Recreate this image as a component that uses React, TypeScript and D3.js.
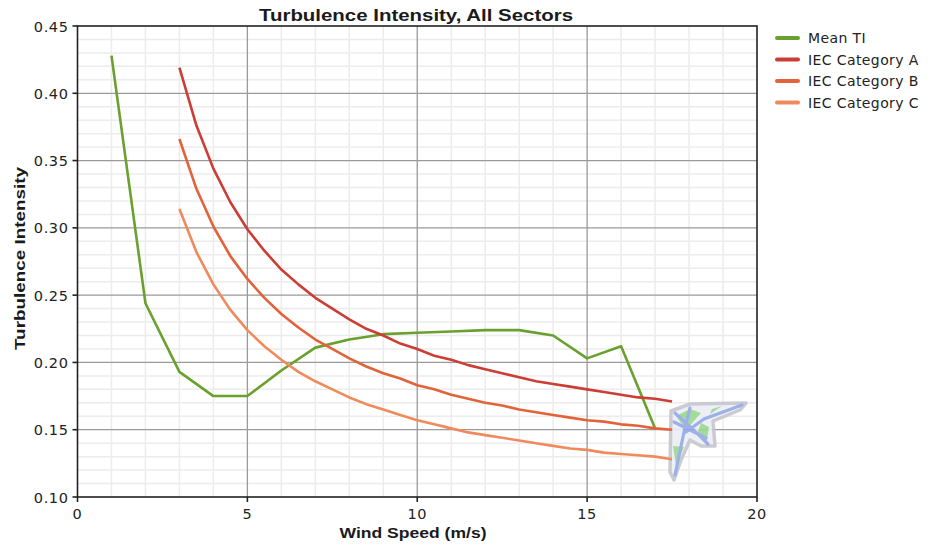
import React, { useEffect, useRef } from "react";
import * as d3 from "d3";

// values
const meanSpeeds = [1, 2, 3, 4, 5, 6, 7, 8, 9, 10, 11, 12, 13, 14, 15, 16, 17];
const meanTI = [0.428, 0.244, 0.193, 0.175, 0.175, 0.194, 0.211, 0.217, 0.221, 0.222, 0.223, 0.224, 0.224, 0.22, 0.203, 0.212, 0.151];

const iecSpeeds = [3, 3.5, 4, 4.5, 5, 5.5, 6, 6.5, 7, 7.5, 8, 8.5, 9, 9.5, 10, 10.5, 11, 11.5, 12, 12.5, 13, 13.5, 14, 14.5, 15, 15.5, 16, 16.5, 17, 17.5];
const iecA = [0.419, 0.376, 0.344, 0.319, 0.299, 0.283, 0.269, 0.258, 0.248, 0.24, 0.232, 0.225, 0.22, 0.214, 0.21, 0.205, 0.202, 0.198, 0.195, 0.192, 0.189, 0.186, 0.184, 0.182, 0.18, 0.178, 0.176, 0.174, 0.173, 0.171];
const iecB = [0.366, 0.329, 0.301, 0.279, 0.262, 0.248, 0.236, 0.226, 0.217, 0.21, 0.203, 0.197, 0.192, 0.188, 0.183, 0.18, 0.176, 0.173, 0.17, 0.168, 0.165, 0.163, 0.161, 0.159, 0.157, 0.156, 0.154, 0.153, 0.151, 0.15];
const iecC = [0.314, 0.282, 0.258, 0.239, 0.224, 0.212, 0.202, 0.193, 0.186, 0.18, 0.174, 0.169, 0.165, 0.161, 0.157, 0.154, 0.151, 0.148, 0.146, 0.144, 0.142, 0.14, 0.138, 0.136, 0.135, 0.133, 0.132, 0.131, 0.13, 0.128];

const seriesNames = ["Mean TI", "IEC Category A", "IEC Category B", "IEC Category C"];
const seriesColors = ["#6aa02e", "#cc3d35", "#e2623a", "#f08a5c"];

const xTicks = [0, 5, 10, 15, 20];
const yTicks = [0.1, 0.15, 0.2, 0.25, 0.3, 0.35, 0.4, 0.45];

const App = () => {
  const ref = useRef<SVGSVGElement>(null);

  useEffect(() => {
    document.body.style.margin = "0";
    const width = 942;
    const height = 548;
    const m = { left: 77.5, right: 185, top: 26, bottom: 51 };
    const font = "'DejaVu Sans', Verdana, sans-serif";
    const titleFont = "Arial, 'Liberation Sans', sans-serif";

    const svg = d3.select(ref.current).attr("width", width).attr("height", height);
    svg.selectAll("*").remove();

    const x = d3.scaleLinear().domain([0, 20]).range([m.left, width - m.right]);
    const y = d3.scaleLinear().domain([0.1, 0.45]).range([height - m.bottom, m.top]);

    const g = svg.append("g");

    // minor grid
    g.selectAll("line.xminor")
      .data(d3.range(1, 20).filter((d) => d % 5 !== 0))
      .enter()
      .append("line")
      .attr("x1", (d) => x(d))
      .attr("x2", (d) => x(d))
      .attr("y1", y(0.1))
      .attr("y2", y(0.45))
      .style("stroke", "#ececec")
      .style("stroke-width", 1.5);
    g.selectAll("line.yminor")
      .data(d3.range(11, 45).filter((d) => d % 5 !== 0).map((d) => d / 100))
      .enter()
      .append("line")
      .attr("x1", x(0))
      .attr("x2", x(20))
      .attr("y1", (d) => y(d))
      .attr("y2", (d) => y(d))
      .style("stroke", "#ececec")
      .style("stroke-width", 1.5);

    // major grid
    g.selectAll("line.xmajor")
      .data([5, 10, 15])
      .enter()
      .append("line")
      .attr("x1", (d) => x(d))
      .attr("x2", (d) => x(d))
      .attr("y1", y(0.1))
      .attr("y2", y(0.45))
      .style("stroke", "#9a9a9a")
      .style("stroke-width", 1.3);
    g.selectAll("line.ymajor")
      .data([0.15, 0.2, 0.25, 0.3, 0.35, 0.4])
      .enter()
      .append("line")
      .attr("x1", x(0))
      .attr("x2", x(20))
      .attr("y1", (d) => y(d))
      .attr("y2", (d) => y(d))
      .style("stroke", "#9a9a9a")
      .style("stroke-width", 1.3);

    // logo watermark
    const logo = g.append("g").attr("opacity", 0.9);
    logo.append("path")
      .attr("d", "M671,411 L690,404 L746,403 L740,410 L713,421 L715,446 L701,446 L690,440 L681,460 L674,480 L670,472 Z")
      .style("fill", "#eceef7")
      .style("stroke", "#c6c6ce")
      .style("stroke-width", 3.5)
      .style("stroke-linejoin", "round");
    logo.append("path")
      .attr("d", "M676,416 L690,409 L701,413 L686,430 Z M701,423 L709,427 L707,440 L697,434 Z M673,446 L684,447 L676,466 Z M712,409 L722,406 L710,414 Z")
      .style("fill", "#9ad88e");
    logo.append("path")
      .attr("d", "M675,413 L700,436 L708,444 M690,408 L684,432 L675,475 M742,405 L704,419 L686,432 M674,422 L706,438")
      .style("fill", "none")
      .style("stroke", "#93a8e8")
      .style("stroke-width", 3.2)
      .style("stroke-linecap", "round");

    // series
    const line = d3
      .line<[number, number]>()
      .x((d) => x(d[0]))
      .y((d) => y(d[1]));
    const series: [number, number][][] = [
      meanSpeeds.map((s, i) => [s, meanTI[i]]),
      iecSpeeds.map((s, i) => [s, iecA[i]]),
      iecSpeeds.map((s, i) => [s, iecB[i]]),
      iecSpeeds.map((s, i) => [s, iecC[i]]),
    ];
    g.selectAll("path.series")
      .data(series)
      .enter()
      .append("path")
      .attr("d", (d) => line(d))
      .style("fill", "none")
      .style("stroke", (d, i) => seriesColors[i])
      .style("stroke-width", 2.6)
      .style("stroke-linejoin", "round");

    // frame
    g.append("rect")
      .attr("x", x(0))
      .attr("y", y(0.45))
      .attr("width", x(20) - x(0))
      .attr("height", y(0.1) - y(0.45))
      .style("fill", "none")
      .style("stroke", "#222")
      .style("stroke-width", 1.6);

    // ticks
    g.selectAll("line.xtick")
      .data(xTicks)
      .enter()
      .append("line")
      .attr("x1", (d) => x(d))
      .attr("x2", (d) => x(d))
      .attr("y1", y(0.1))
      .attr("y2", y(0.1) + 5)
      .style("stroke", "#222")
      .style("stroke-width", 1.6);
    g.selectAll("text.xtick")
      .data(xTicks)
      .enter()
      .append("text")
      .attr("x", (d) => x(d))
      .attr("y", y(0.1) + 22)
      .attr("text-anchor", "middle")
      .style("font-family", font)
      .style("font-size", "14.5px")
      .style("letter-spacing", "0.6px")
      .style("fill", "#222")
      .text((d) => d);
    g.selectAll("line.ytick")
      .data(yTicks)
      .enter()
      .append("line")
      .attr("x1", x(0) - 5)
      .attr("x2", x(0))
      .attr("y1", (d) => y(d))
      .attr("y2", (d) => y(d))
      .style("stroke", "#222")
      .style("stroke-width", 1.6);
    g.selectAll("text.ytick")
      .data(yTicks)
      .enter()
      .append("text")
      .attr("x", x(0) - 9)
      .attr("y", (d) => y(d) + 5.5)
      .attr("text-anchor", "end")
      .style("font-family", font)
      .style("font-size", "14.5px")
      .style("letter-spacing", "0.6px")
      .style("fill", "#222")
      .text((d) => d3.format(".2f")(d));

    // titles
    svg.append("text")
      .attr("x", 416)
      .attr("y", 21)
      .attr("text-anchor", "middle")
      .attr("textLength", 314)
      .attr("lengthAdjust", "spacingAndGlyphs")
      .style("font-family", titleFont)
      .style("font-size", "17px")
      .style("font-weight", "bold")
      .style("fill", "#1a1a1a")
      .text("Turbulence Intensity, All Sectors");
    svg.append("text")
      .attr("x", 413)
      .attr("y", 538)
      .attr("text-anchor", "middle")
      .attr("textLength", 147)
      .attr("lengthAdjust", "spacingAndGlyphs")
      .style("font-family", titleFont)
      .style("font-size", "15px")
      .style("font-weight", "bold")
      .style("fill", "#1a1a1a")
      .text("Wind Speed (m/s)");
    svg.append("text")
      .attr("transform", "translate(25,258.5) rotate(-90)")
      .attr("text-anchor", "middle")
      .attr("textLength", 183)
      .attr("lengthAdjust", "spacingAndGlyphs")
      .style("font-family", titleFont)
      .style("font-size", "15px")
      .style("font-weight", "bold")
      .style("fill", "#1a1a1a")
      .text("Turbulence Intensity");

    // legend
    const legend = svg.append("g");
    seriesNames.forEach((name, i) => {
      const ly = 38 + i * 21.5;
      legend.append("line")
        .attr("x1", 777)
        .attr("x2", 798)
        .attr("y1", ly)
        .attr("y2", ly)
        .style("stroke", seriesColors[i])
        .style("stroke-width", 4)
        .style("stroke-linecap", "round");
      legend.append("text")
        .attr("x", 808)
        .attr("y", ly + 5)
        .style("font-family", font)
        .style("font-size", "14px")
        .style("letter-spacing", "0.4px")
        .style("fill", "#222")
        .text(name);
    });
  }, []);

  return (
    <div>
      <svg ref={ref} style={{ display: "block" }}></svg>
    </div>
  );
};

export default App;
